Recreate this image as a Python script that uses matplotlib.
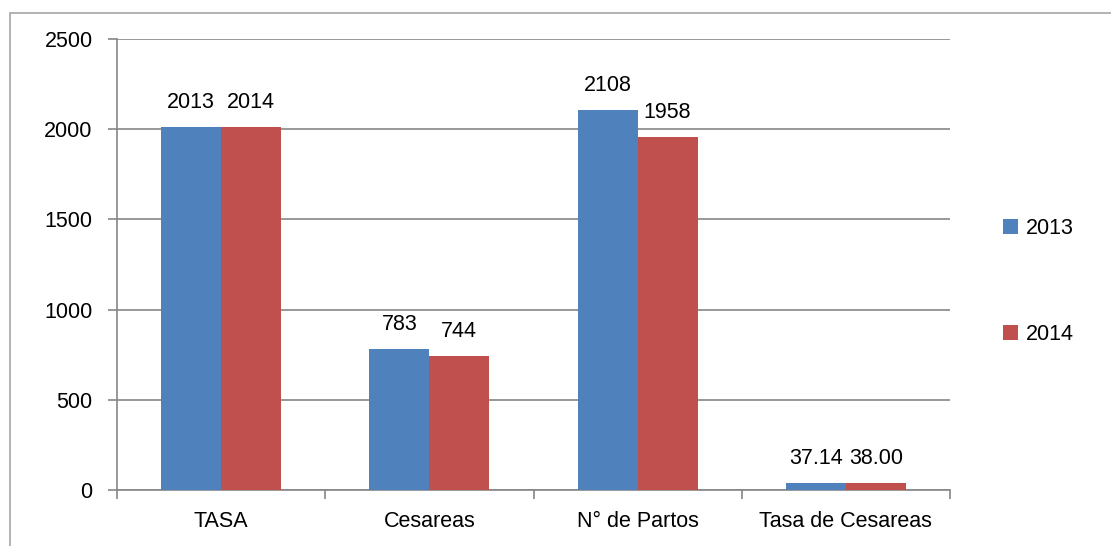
import numpy as np
import matplotlib.pyplot as plt
from matplotlib.patches import Rectangle

categories = ['TASA', 'Cesareas', 'N° de Partos', 'Tasa de Cesareas']
vals_2013 = [2013, 783, 2108, 37.14]
vals_2014 = [2014, 744, 1958, 38.00]
labels_2013 = ['2013', '783', '2108', '37.14']
labels_2014 = ['2014', '744', '1958', '38.00']
series_names = ['2013', '2014']
yticks = [0, 500, 1000, 1500, 2000, 2500]

plt.rcParams['font.family'] = ['Liberation Sans', 'DejaVu Sans']
fs = 15.5

fig = plt.figure(figsize=(11.11, 5.46), dpi=100)
ax = fig.add_axes([0.1053, 0.1026, 0.7498, 0.826])

# chart border
fig.patches.append(Rectangle((10/1111, -0.1), 1.2, 1 - 13/546 + 0.1, transform=fig.transFigure,
                             fill=False, edgecolor='#a6a6a6', linewidth=1.2))

x = np.arange(len(categories))
w = 0.2875
blue = '#4F81BD'
red = '#C0504D'
b1 = ax.bar(x - w/2, vals_2013, w, color=blue, label=series_names[0], zorder=3)
b2 = ax.bar(x + w/2, vals_2014, w, color=red, label=series_names[1], zorder=3)

for bars, labs in [(b1, labels_2013), (b2, labels_2014)]:
    for b, t in zip(bars, labs):
        ax.annotate(t, (b.get_x() + b.get_width()/2, b.get_height()), xytext=(0, 10),
                    textcoords='offset points', ha='center', va='bottom', fontsize=fs)

ax.set_xlim(-0.5, len(categories) - 0.5)
ax.set_ylim(0, 2500)
ax.set_yticks(yticks)
ax.yaxis.grid(True, color='#868686', linewidth=1.2, zorder=0)
ax.set_axisbelow(True)

ax.set_xticks(x)
ax.set_xticklabels(categories)
ax.set_xticks(np.arange(len(categories) + 1) - 0.5, minor=True)
ax.tick_params(axis='x', which='major', length=0, pad=15, labelsize=fs)
ax.tick_params(axis='x', which='minor', length=6.5, width=1.2, color='#868686', direction='out')
ax.tick_params(axis='y', length=6.5, width=1.2, color='#868686', pad=11, labelsize=fs)

for s in ['top', 'right']:
    ax.spines[s].set_visible(False)
for s in ['left', 'bottom']:
    ax.spines[s].set_color('#868686')
    ax.spines[s].set_linewidth(1.2)

ax.legend(loc='center left', bbox_to_anchor=(0.885, 0.485), bbox_transform=fig.transFigure,
          frameon=False, fontsize=fs, labelspacing=3.95, handlelength=0.7, handleheight=0.7,
          handletextpad=0.4)

fig.savefig('out.png', dpi=100)
